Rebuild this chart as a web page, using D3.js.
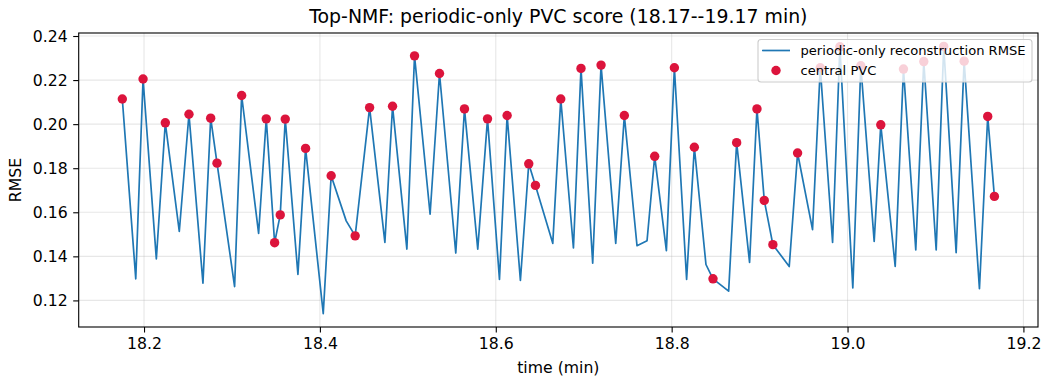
<!DOCTYPE html>
<html>
<head>
<meta charset="utf-8">
<script src="https://cdn.jsdelivr.net/npm/d3@7"></script>
<style>
  html, body { margin: 0; padding: 0; background: #fff; }
  svg { display: block; font-family: "DejaVu Sans", sans-serif; }
</style>
</head>
<body>
<svg id="chart" width="1045" height="377"></svg>
<script>
// Reconstruction error over time (minutes)
const timeMin = [
  18.1753, 18.1906, 18.1989, 18.2140, 18.2242, 18.2401, 18.2511, 18.2670, 18.2758, 18.2830,
  18.3030, 18.3110, 18.3303, 18.3390, 18.3485, 18.3549, 18.3606, 18.3750, 18.3837, 18.4038,
  18.4128, 18.4299, 18.4401, 18.4565, 18.4739, 18.4826, 18.4989, 18.5076, 18.5253, 18.5360,
  18.5545, 18.5644, 18.5795, 18.5906, 18.6042, 18.6129, 18.6280, 18.6375, 18.6451, 18.6648,
  18.6739, 18.6883, 18.6969, 18.7102, 18.7197, 18.7364, 18.7462, 18.7606, 18.7720, 18.7807,
  18.7940, 18.8031, 18.8170, 18.8258, 18.8390, 18.8470, 18.8648, 18.8739, 18.8886, 18.8970,
  18.9053, 18.9151, 18.9337, 18.9432, 18.9602, 18.9690, 18.9830, 18.9913, 19.0060, 19.0151,
  19.0303, 19.0378, 19.0542, 19.0636, 19.0776, 19.0867, 19.1008, 19.1094, 19.1235, 19.1326,
  19.1500, 19.1594, 19.1670
];
const rmse = [
  0.2114, 0.1298, 0.2205, 0.1388, 0.2006, 0.1513, 0.2045, 0.1278, 0.2027, 0.1823,
  0.1263, 0.2130, 0.1504, 0.2024, 0.1462, 0.1588, 0.2023, 0.1318, 0.1890, 0.1140,
  0.1766, 0.1561, 0.1493, 0.2075, 0.1463, 0.2081, 0.1433, 0.2310, 0.1591, 0.2230,
  0.1415, 0.2069, 0.1433, 0.2024, 0.1295, 0.2039, 0.1291, 0.1820, 0.1722, 0.1459,
  0.2114, 0.1438, 0.2253, 0.1369, 0.2268, 0.1459, 0.2039, 0.1448, 0.1471, 0.1854,
  0.1426, 0.2256, 0.1295, 0.1895, 0.1363, 0.1298, 0.1242, 0.1916, 0.1372, 0.2069,
  0.1654, 0.1453, 0.1354, 0.1869, 0.1521, 0.2256, 0.1463, 0.2351, 0.1257, 0.2265,
  0.1468, 0.1997, 0.1354, 0.2250, 0.1429, 0.2284, 0.1429, 0.2353, 0.1417, 0.2286,
  0.1253, 0.2035, 0.1672
];
// 1 where the sample is a central PVC beat
const isPvc = [
  1, 0, 1, 0, 1, 0, 1, 0, 1, 1,
  0, 1, 0, 1, 1, 1, 1, 0, 1, 0,
  1, 0, 1, 1, 0, 1, 0, 1, 0, 1,
  0, 1, 0, 1, 0, 1, 0, 1, 1, 0,
  1, 0, 1, 0, 1, 0, 1, 0, 0, 1,
  0, 1, 0, 1, 0, 1, 0, 1, 0, 1,
  1, 1, 0, 1, 0, 1, 0, 1, 0, 1,
  0, 1, 0, 1, 0, 1, 0, 1, 0, 1,
  0, 1, 1
];
const xTicks = [18.2, 18.4, 18.6, 18.8, 19.0, 19.2];
const yTicks = [0.12, 0.14, 0.16, 0.18, 0.20, 0.22, 0.24];

const titleText = "Top-NMF: periodic-only PVC score (18.17--19.17 min)";
const xLabel = "time (min)";
const yLabel = "RMSE";
const legendLabels = ["periodic-only reconstruction RMSE", "central PVC"];

const points = timeMin.map((t, i) => ({ t, v: rmse[i], pvc: isPvc[i] === 1 }));
const pvcPoints = points.filter(d => d.pvc);

const svg = d3.select("#chart");
const plot = { left: 78.7, right: 1038, top: 33, bottom: 327 };

// Padded domains (5% margin each side)
function padded(ext) {
  const m = (ext[1] - ext[0]) * 0.05;
  return [ext[0] - m, ext[1] + m];
}
const x = d3.scaleLinear().domain(padded(d3.extent(timeMin))).range([plot.left, plot.right]);
const y = d3.scaleLinear().domain(padded(d3.extent(rmse))).range([plot.bottom, plot.top]);

const tickFont = 15.7;

// Grid
const grid = svg.append("g").attr("stroke", "#b0b0b0").attr("stroke-opacity", 0.3).attr("stroke-width", 1.1);
grid.selectAll(".gx").data(xTicks.filter(t => x(t) <= plot.right)).join("line")
  .attr("x1", d => x(d)).attr("x2", d => x(d))
  .attr("y1", plot.top).attr("y2", plot.bottom);
grid.selectAll(".gy").data(yTicks.filter(t => y(t) >= plot.top)).join("line")
  .attr("x1", plot.left).attr("x2", plot.right)
  .attr("y1", d => y(d)).attr("y2", d => y(d));

// Series line
const line = d3.line().x(d => x(d.t)).y(d => y(d.v));
svg.append("path").datum(points)
  .attr("d", line)
  .attr("fill", "none")
  .attr("stroke", "#1f77b4")
  .attr("stroke-width", 1.7)
  .attr("stroke-linejoin", "round");

// PVC markers
svg.append("g").selectAll("circle").data(pvcPoints).join("circle")
  .attr("cx", d => x(d.t)).attr("cy", d => y(d.v))
  .attr("r", 4.7)
  .attr("fill", "#dc143c");

// Axes
const xAxis = d3.axisBottom(x).tickValues(xTicks).tickFormat(d3.format(".1f"))
  .tickSize(5.5).tickPadding(5.5);
const yAxis = d3.axisLeft(y).tickValues(yTicks).tickFormat(d3.format(".2f"))
  .tickSize(5.5).tickPadding(5.5);

const gx = svg.append("g").attr("transform", `translate(0,${plot.bottom})`).call(xAxis);
const gy = svg.append("g").attr("transform", `translate(${plot.left},0)`).call(yAxis);
[gx, gy].forEach(g => {
  g.select(".domain").remove();
  g.selectAll(".tick line").attr("stroke", "#000").attr("stroke-width", 1.1);
  g.selectAll(".tick text")
    .attr("fill", "#000")
    .style("font-family", "'DejaVu Sans', sans-serif")
    .style("font-size", tickFont + "px");
});

// Frame
svg.append("rect")
  .attr("x", plot.left).attr("y", plot.top)
  .attr("width", plot.right - plot.left).attr("height", plot.bottom - plot.top)
  .attr("fill", "none").attr("stroke", "#000").attr("stroke-width", 1.1);

// Title and labels
svg.append("text")
  .attr("x", (plot.left + plot.right) / 2).attr("y", 23)
  .attr("text-anchor", "middle")
  .style("font-size", "18.9px")
  .text(titleText);

svg.append("text")
  .attr("x", (plot.left + plot.right) / 2).attr("y", 372.5)
  .attr("text-anchor", "middle")
  .style("font-size", tickFont + "px")
  .text(xLabel);

svg.append("text")
  .attr("transform", `translate(21,${(plot.top + plot.bottom) / 2}) rotate(-90)`)
  .attr("text-anchor", "middle")
  .style("font-size", tickFont + "px")
  .text(yLabel);

// Legend
const lg = svg.append("g");
lg.append("rect")
  .attr("x", 758).attr("y", 39.5).attr("width", 274).attr("height", 42.5)
  .attr("rx", 3).attr("ry", 3)
  .attr("fill", "#fff").attr("fill-opacity", 0.8)
  .attr("stroke", "#cccccc").attr("stroke-width", 1.1);
lg.append("line")
  .attr("x1", 762).attr("x2", 790).attr("y1", 50.5).attr("y2", 50.5)
  .attr("stroke", "#1f77b4").attr("stroke-width", 1.7);
lg.append("circle")
  .attr("cx", 776).attr("cy", 70.5).attr("r", 4.7).attr("fill", "#dc143c");
lg.selectAll("text.lbl").data(legendLabels).join("text")
  .attr("class", "lbl")
  .attr("x", 800.5)
  .attr("y", (d, i) => 55 + i * 20.3)
  .style("font-size", "13.1px")
  .text(d => d);
</script>
</body>
</html>
